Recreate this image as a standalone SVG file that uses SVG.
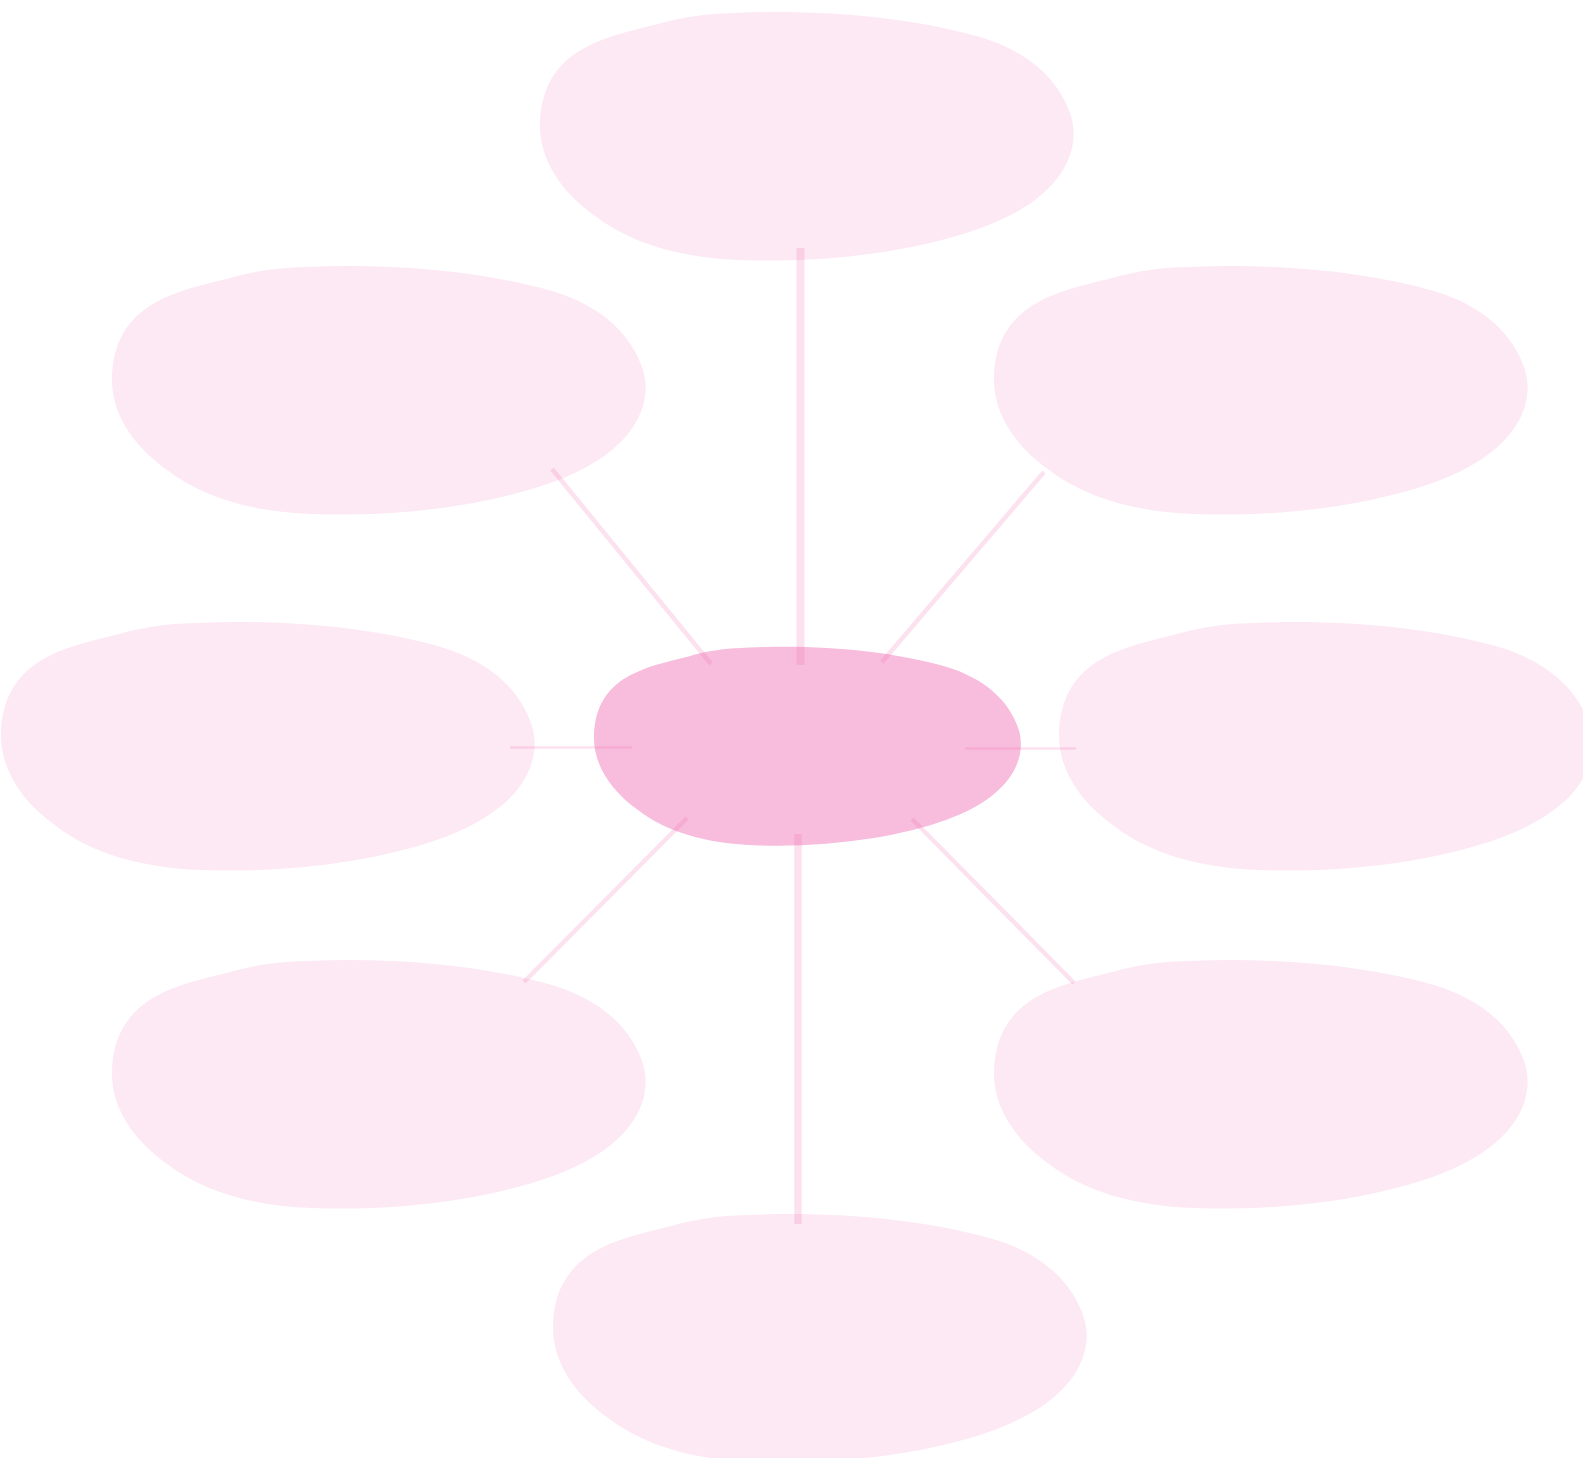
<svg xmlns="http://www.w3.org/2000/svg" xmlns:xlink="http://www.w3.org/1999/xlink" width="1583" height="1458" viewBox="0 0 1583 1458">
  <style>
    .blob { fill: #fde9f3; }
    .blob-main { fill: #f8bcdd; }
    .conn { stroke: #ee6aaf; stroke-opacity: 0.2; fill: none; stroke-linecap: butt; }
  </style>
  <defs>
    <path id="blobShape" d="M 0,115 C 0,85 10,60 36,42 C 62,25 92,20 118,13 C 140,7 160,3 195,2 C 280,-2 370,6 440,26 C 490,41 520,70 531,105 C 540,135 525,165 500,185 C 470,210 420,228 350,240 C 300,248 250,251 200,249 C 140,247 90,232 55,205 C 20,180 0,148 0,115 Z"/>
  </defs>
  <rect width="1583" height="1458" fill="#ffffff"/>
  <g id="node-top" transform="translate(540,11)"><use xlink:href="#blobShape" class="blob"/></g>
  <g id="node-upper-left" transform="translate(112,265)"><use xlink:href="#blobShape" class="blob"/></g>
  <g id="node-upper-right" transform="translate(994,265)"><use xlink:href="#blobShape" class="blob"/></g>
  <g id="node-left" transform="translate(1,621)"><use xlink:href="#blobShape" class="blob"/></g>
  <g id="node-right" transform="translate(1059,621)"><use xlink:href="#blobShape" class="blob"/></g>
  <g id="node-lower-left" transform="translate(112,959)"><use xlink:href="#blobShape" class="blob"/></g>
  <g id="node-lower-right" transform="translate(994,959)"><use xlink:href="#blobShape" class="blob"/></g>
  <g id="node-bottom" transform="translate(553,1213)"><use xlink:href="#blobShape" class="blob"/></g>
  <g id="node-center" transform="translate(594,646) scale(0.8)"><use xlink:href="#blobShape" class="blob-main"/></g>
  <g id="connectors">
    <line class="conn" x1="800.5" y1="248" x2="800.5" y2="665" stroke-width="8"/>
    <line class="conn" x1="798" y1="834" x2="798" y2="1224" stroke-width="7.5"/>
    <line class="conn" x1="552" y1="469" x2="711" y2="664" stroke-width="4.5"/>
    <line class="conn" x1="1044" y1="472" x2="882" y2="662" stroke-width="4.5"/>
    <line class="conn" x1="510" y1="747.5" x2="632" y2="747.5" stroke-width="2.5"/>
    <line class="conn" x1="965" y1="748.5" x2="1076" y2="748.5" stroke-width="2.5"/>
    <line class="conn" x1="687" y1="818" x2="524" y2="982" stroke-width="4.5"/>
    <line class="conn" x1="912" y1="819" x2="1074" y2="983" stroke-width="4.5"/>
  </g>
</svg>
